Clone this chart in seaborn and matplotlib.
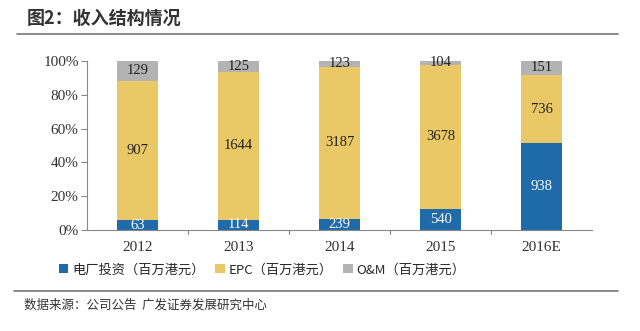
import matplotlib
matplotlib.use("Agg")
import matplotlib.pyplot as plt
import seaborn as sns
import numpy as np
import pandas as pd
from matplotlib.patches import Patch
from matplotlib.lines import Line2D

years = ["2012", "2013", "2014", "2015", "2016E"]
invest = [63, 114, 239, 540, 938]
epc = [907, 1644, 3187, 3678, 736]
om = [129, 125, 123, 104, 151]
series_names = ["电厂投资（百万港元）", "EPC（百万港元）", "O&M（百万港元）"]
colors = ["#1f6aa8", "#ebc866", "#b3b3b3"]

sns.set_theme(style="white")
plt.rcParams['font.family'] = ['Noto Sans CJK SC', 'DejaVu Sans']

tot = np.array(invest) + np.array(epc) + np.array(om)
vals = [np.array(invest), np.array(epc), np.array(om)]
pcts = [v / tot * 100 for v in vals]

fig = plt.figure(figsize=(6.4, 3.31), dpi=100)
ax = fig.add_axes([0.136, 0.305, 0.789, 0.511])

bottom = np.zeros(len(years))
for i, (p, raw) in enumerate(zip(pcts, vals)):
    df = pd.DataFrame({"year": years, "pct": p})
    sns.barplot(data=df, x="year", y="pct", color=colors[i], width=0.4,
                bottom=bottom, ax=ax, saturation=1, edgecolor="none")
    for j in range(len(years)):
        c = "white" if i == 0 else "#222222"
        ax.text(j, bottom[j] + p[j] / 2, str(raw[j]), ha="center", va="center",
                fontsize=10.5, color=c, family="Liberation Serif")
    bottom = bottom + p

ax.set_ylim(0, 100)
ax.set_xlim(-0.5, 4.5)
ax.set_yticks([0, 20, 40, 60, 80, 100])
ax.set_yticklabels(["0%", "20%", "40%", "60%", "80%", "100%"], family="Liberation Serif", fontsize=11, color="#333333")
ax.set_xticks(range(len(years)))
ax.set_xticklabels(years, family="Liberation Serif", fontsize=11, color="#333333")
ax.tick_params(axis="x", length=0, pad=8)
ax.tick_params(axis="y", length=4, width=0.8, color="#888888", direction="out", left=True, pad=2)
for b in np.arange(0.5, 4.5, 1.0):
    ax.plot([b, b], [0, -2.5], color="#888888", lw=0.8, clip_on=False)
ax.set_xlabel("")
ax.set_ylabel("")
for s in ["top", "right"]:
    ax.spines[s].set_visible(False)
ax.spines["left"].set_color("#888888")
ax.spines["bottom"].set_color("#888888")
ax.spines["left"].set_linewidth(0.8)
ax.spines["bottom"].set_linewidth(0.8)

handles = [Patch(facecolor=c, edgecolor="none") for c in colors]
fig.legend(handles, series_names, loc="center", bbox_to_anchor=(0.41, 0.185), ncol=3,
           frameon=False, fontsize=9.5, handlelength=0.7, handleheight=0.7,
           handletextpad=0.3, columnspacing=0.8)

fig.text(0.042, 0.945, "图2：收入结构情况", fontsize=13, fontweight="bold", color="#333333", va="center")
fig.add_artist(Line2D([0.027, 0.966], [0.897, 0.897], color="#777777", lw=1.2))
fig.add_artist(Line2D([0.022, 0.966], [0.121, 0.121], color="#777777", lw=1.2))
fig.text(0.037, 0.078, "数据来源：公司公告  广发证券发展研究中心", fontsize=9, color="#333333", va="center")

fig.savefig("out.png", dpi=100)
